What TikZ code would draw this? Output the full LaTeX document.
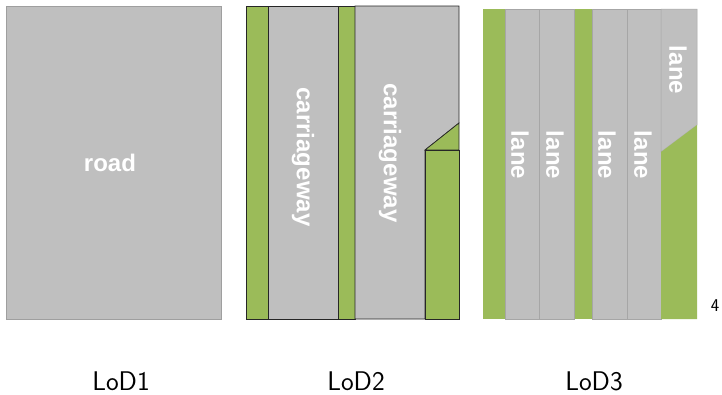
\documentclass[tikz,border=0pt]{standalone}
\usepackage{fontspec}
\newfontfamily\tagfont{Liberation Sans}
\usetikzlibrary{positioning}

\definecolor{roadgray}{HTML}{BFBFBF}
\definecolor{verge}{HTML}{9BBB59}
\definecolor{laneline}{HTML}{A6A6A6}

\begin{document}
\begin{tikzpicture}[
    x=1pt, y=-1pt,
    surface/.style={fill=roadgray},
    grass/.style={fill=verge},
    outline/.style={draw=black!85, line width=0.7pt},
    lanesep/.style={draw=laneline, line width=0.5pt},
    tag/.style={
        text=white,
        inner sep=0pt,
        font=\tagfont\bfseries\fontsize{24}{24}\selectfont
    },
    lodname/.style={
        inner sep=0pt,
        anchor=base,
        font=\sffamily\fontsize{27}{27}\selectfont
    }
]
\useasboundingbox (0,0) rectangle (722,394);

% LoD1: one road surface
\filldraw[surface, draw=gray!75] (6,6) rectangle (221,319);
\node[tag] (road) at (110,163) {road};

% LoD2: carriageways with verges
\filldraw[grass, outline] (246,6) rectangle (268,319);
\filldraw[surface, outline] (268,6) rectangle (338,319);
\filldraw[grass, outline] (338,6) rectangle (355,319);
\filldraw[surface, outline] (355,6) -- (459,6) -- (459,123) -- (425,150)
    -- (425,319) -- (355,319) -- cycle;
\filldraw[grass, outline] (425,150) -- (459,123) -- (459,150) -- cycle;
\filldraw[grass, outline] (425,150) rectangle (459,319);

\node[tag, rotate=-90] (cwleft) at (303,157) {carriageway};
\node[tag, rotate=-90] (cwright) at (390,153) {carriageway};

% LoD3: single lanes
\fill[grass] (483,9) rectangle (505,319);
\fill[grass] (574,9) rectangle (592,319);
\foreach \xa/\xb in {505/539, 539/574, 592/627, 627/661}
    \filldraw[surface, lanesep] (\xa,9) rectangle (\xb,319);
\filldraw[surface, lanesep] (661,9) -- (697,9) -- (697,125) -- (661,152) -- cycle;
\fill[grass] (661,152) -- (697,125) -- (697,319) -- (661,319) -- cycle;

\node[tag, rotate=-90] (lane1) at (520,155) {lane};
\node[tag, rotate=-90] (lane2) at (555,155) {lane};
\node[tag, rotate=-90] (lane3) at (607,155) {lane};
\node[tag, rotate=-90] (lane4) at (643,155) {lane};
\node[tag, rotate=-90] (lane5) at (678,70) {lane};

\node[inner sep=0pt, font=\sffamily\fontsize{18}{18}\selectfont] (pageno) at (715,306) {4};

% level names
\node[lodname] (lod1) at (121,390) {LoD1};
\node[lodname] (lod2) at (356,390) {LoD2};
\node[lodname] (lod3) at (594,390) {LoD3};

\end{tikzpicture}
\end{document}
